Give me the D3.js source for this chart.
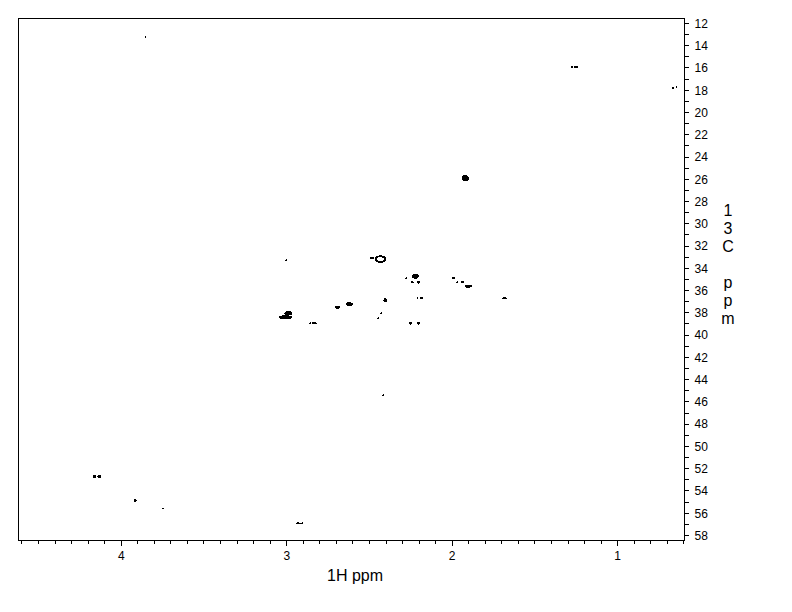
<!DOCTYPE html>
<html><head><meta charset="utf-8">
<script src="https://cdn.jsdelivr.net/npm/d3@7"></script>
<style>body{margin:0;background:#fff} text{font-family:"Liberation Sans",Arial,sans-serif;fill:#000}</style>
</head><body><svg id="c" width="792" height="612"></svg>
<script>
// Axis tick labels
const hTicks = [4, 3, 2, 1];
const cTicks = [12,14,16,18,20,22,24,26,28,30,32,34,36,38,40,42,44,46,48,50,52,54,56,58];
// Cross peaks: 1H shift, 13C shift (ppm), linewidths (ppm)
const peakH   = [3.851,1.247,1.271,0.642,0.661,1.917,2.999,2.480,2.219,2.274,2.238,2.201,1.990,1.966,1.935,1.899,2.207,2.183,1.688,1.676,2.401,2.618,2.690,2.425,2.443,2.987,3.005,2.854,2.830,2.250,2.201,2.413,4.159,4.129,3.912,3.743,2.927,2.903];
const peakC   = [13.26,15.96,15.96,17.76,17.85,25.94,33.31,33.13,34.75,34.93,35.29,35.29,34.93,35.29,35.29,35.65,36.73,36.73,36.73,36.73,36.91,37.27,37.54,38.08,38.53,38.08,38.44,38.98,38.98,38.98,38.98,45.45,52.74,52.74,54.90,55.62,56.96,56.96];
const peakLwH = [0.012,0.030,0.006,0.012,0.006,0.042,0.012,0.030,0.042,0.012,0.018,0.018,0.024,0.012,0.024,0.048,0.012,0.018,0.006,0.018,0.024,0.042,0.036,0.012,0.012,0.048,0.085,0.012,0.030,0.018,0.018,0.006,0.024,0.024,0.018,0.012,0.030,0.012];
const peakLwC = [0.18,0.27,0.09,0.18,0.18,0.54,0.18,0.18,0.45,0.09,0.18,0.27,0.18,0.18,0.18,0.27,0.18,0.18,0.18,0.18,0.36,0.36,0.27,0.18,0.09,0.36,0.36,0.18,0.18,0.27,0.27,0.09,0.27,0.27,0.27,0.18,0.18,0.18];
// Ring-shaped (hollow contour) peak
const ringH = [2.431], ringC = [33.22], ringLwH = [0.060], ringLwC = [0.50];

const svg = d3.select("#c");
const L = 18.5, R = 684.5, T = 18.5, B = 540.5;
const x = d3.scaleLinear().domain([4.618, 0.593]).range([L, R]);
const y = d3.scaleLinear().domain([11.6, 58.5]).range([T, B]);

// frame
svg.append("rect").attr("x", L).attr("y", T).attr("width", R - L).attr("height", B - T)
  .attr("fill", "none").attr("stroke", "#000").attr("stroke-width", 1);

// bottom axis: minor + major
const gx = svg.append("g").attr("transform", `translate(0,${B})`);
gx.call(d3.axisBottom(x).tickValues(d3.range(6, 47).map(d => d / 10)).tickSize(3).tickFormat(""));
gx.append("g").call(d3.axisBottom(x).tickValues(hTicks).tickSize(5).tickFormat(d3.format("d")));
gx.selectAll(".domain").remove();
gx.selectAll("line").attr("stroke", "#000").attr("shape-rendering", "crispEdges");
gx.selectAll("text").attr("font-size", 12).attr("y", 19.5).attr("dy", 0).attr("font-family", "Liberation Sans, Arial, sans-serif");

// right axis
const gy = svg.append("g").attr("transform", `translate(${R},0)`);
gy.call(d3.axisRight(y).tickValues(d3.range(12, 59)).tickSize(4).tickFormat(""));
gy.append("g").call(d3.axisRight(y).tickValues(cTicks).tickSize(4).tickPadding(6).tickFormat(d3.format("d")));
gy.selectAll(".domain").remove();
gy.selectAll("line").attr("stroke", "#000").attr("shape-rendering", "crispEdges");
gy.selectAll("text").attr("font-size", 12).attr("dy", "0.36em").attr("font-family", "Liberation Sans, Arial, sans-serif");

// axis titles
svg.append("text").attr("x", 355).attr("y", 581).attr("text-anchor", "middle")
  .attr("font-size", 16).text("1H ppm");
const yl = svg.append("text").attr("font-size", 16).attr("text-anchor", "middle");
"13C ppm".split("").forEach((ch, i) => {
  yl.append("tspan").attr("x", 728).attr("y", 216 + i * 18).text(ch);
});

// peaks
const pk = svg.append("g").attr("shape-rendering", "crispEdges");
peakH.forEach((h, i) => {
  const rx = Math.max(1, Math.abs(x(h + peakLwH[i] / 2) - x(h)));
  const ry = Math.max(1, Math.abs(y(peakC[i] + peakLwC[i] / 2) - y(peakC[i])));
  pk.append("ellipse").attr("cx", x(h)).attr("cy", y(peakC[i])).attr("rx", rx).attr("ry", ry).attr("fill", "#000");
});
ringH.forEach((h, i) => {
  const rx = Math.abs(x(h + ringLwH[i] / 2) - x(h));
  const ry = Math.abs(y(ringC[i] + ringLwC[i] / 2) - y(ringC[i]));
  pk.append("ellipse").attr("cx", x(h)).attr("cy", y(ringC[i])).attr("rx", rx).attr("ry", ry)
    .attr("fill", "none").attr("stroke", "#000").attr("stroke-width", 2);
});
</script></body></html>
